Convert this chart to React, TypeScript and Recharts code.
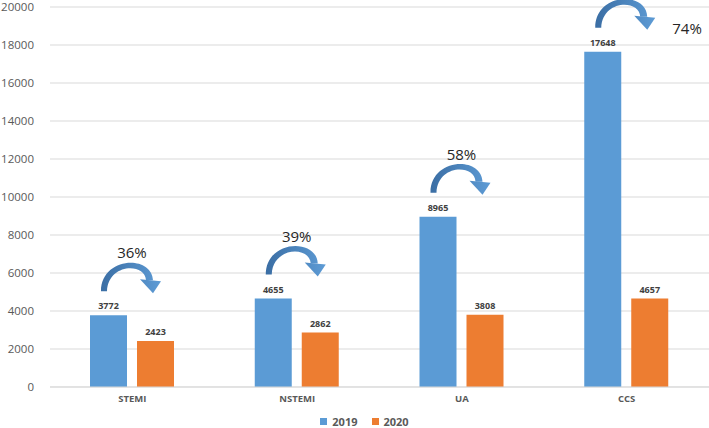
import React from 'react';
import { BarChart, Bar, XAxis, YAxis, CartesianGrid, Legend, LabelList } from 'recharts';

const categories = ['STEMI', 'NSTEMI', 'UA', 'CCS'];
const values2019 = [3772, 4655, 8965, 17648];
const values2020 = [2423, 2862, 3808, 4657];
const changeLabels = ['36%', '39%', '58%', '74%'];
const yTicks = [0, 2000, 4000, 6000, 8000, 10000, 12000, 14000, 16000, 18000, 20000];

const BLUE = '#5B9BD5';
const ORANGE = '#ED7D31';
const FONT = '"Open Sans", "Noto Sans", sans-serif';

const data = categories.map((c, i) => ({
  name: c,
  y2019: values2019[i],
  y2020: values2020[i],
  change: changeLabels[i],
}));

const ArrowLabel = (props: any) => {
  const { x, y, index, value } = props;
  const bx = Number(x);
  const by = Number(y);
  const gid = `arrowGrad${index}`;
  const band =
    `M ${bx + 11},${by - 24} ` +
    `C ${bx + 11},${by - 59} ${bx + 62},${by - 61} ${bx + 63},${by - 35} ` +
    `L ${bx + 56},${by - 35} ` +
    `C ${bx + 55},${by - 53} ${bx + 18},${by - 52} ${bx + 17},${by - 24} Z`;
  const head = `${bx + 50},${by - 36} ${bx + 71},${by - 34} ${bx + 63},${by - 22}`;
  const textAbove = by - 63 > 12;
  return (
    <g>
      <defs>
        <linearGradient id={gid} gradientUnits="userSpaceOnUse" x1={bx + 10} y1={0} x2={bx + 72} y2={0}>
          <stop offset="0%" stopColor="#3A6DA3" />
          <stop offset="100%" stopColor="#5E9CD6" />
        </linearGradient>
      </defs>
      <path d={band} fill={`url(#${gid})`} />
      <polygon points={head} fill={`url(#${gid})`} />
      {textAbove ? (
        <text x={bx + 42} y={by - 63} textAnchor="middle" dominantBaseline="central" fontSize={15} fill="#262626" fontFamily={FONT}>
          {value}
        </text>
      ) : (
        <text x={bx + 88} y={by - 24} textAnchor="start" dominantBaseline="central" fontSize={15} fill="#262626" fontFamily={FONT}>
          {value}
        </text>
      )}
    </g>
  );
};

const LegendContent = () => (
  <div
    style={{
      height: 17,
      display: 'flex',
      justifyContent: 'center',
      alignItems: 'center',
      paddingLeft: 20,
      paddingTop: 4,
      boxSizing: 'border-box',
      fontFamily: FONT,
      fontSize: 11,
      fontWeight: 'bold',
      color: '#595959',
    }}
  >
    {[
      { label: '2019', color: BLUE },
      { label: '2020', color: ORANGE },
    ].map((it) => (
      <span key={it.label} style={{ display: 'inline-flex', alignItems: 'center', margin: '0 7px' }}>
        <span style={{ width: 7, height: 7, background: it.color, display: 'inline-block', marginRight: 5 }} />
        {it.label}
      </span>
    ))}
  </div>
);

export default function App() {
  return (
    <div style={{ position: 'absolute', left: 0, top: 0, width: 709, height: 428, background: '#fff' }}>
      <BarChart
        width={709}
        height={428}
        data={data}
        margin={{ top: 7, right: 0, bottom: 0, left: 0 }}
        barSize={37}
        barGap={10}
      >
        <CartesianGrid vertical={false} stroke="#D9D9D9" />
        <XAxis
          dataKey="name"
          height={24}
          tickLine={false}
          axisLine={{ stroke: '#D9D9D9' }}
          tick={{ fontSize: 9.5, fontWeight: 'bold', fill: '#595959', fontFamily: FONT }}
        />
        <YAxis
          width={50}
          domain={[0, 20000]}
          ticks={yTicks}
          interval={0}
          axisLine={false}
          tickLine={false}
          tickSize={8}
          tickMargin={8}
          tick={{ fontSize: 11.5, fill: '#595959', fontFamily: FONT }}
        />
        <Legend verticalAlign="bottom" height={17} content={LegendContent} />
        <Bar dataKey="y2019" fill={BLUE} isAnimationActive={false}>
          <LabelList dataKey="y2019" position="top" offset={6} style={{ fontSize: 9, fontWeight: 'bold', fill: '#404040', fontFamily: FONT }} />
          <LabelList dataKey="change" content={ArrowLabel} />
        </Bar>
        <Bar dataKey="y2020" fill={ORANGE} isAnimationActive={false}>
          <LabelList dataKey="y2020" position="top" offset={6} style={{ fontSize: 9, fontWeight: 'bold', fill: '#404040', fontFamily: FONT }} />
        </Bar>
      </BarChart>
    </div>
  );
}
